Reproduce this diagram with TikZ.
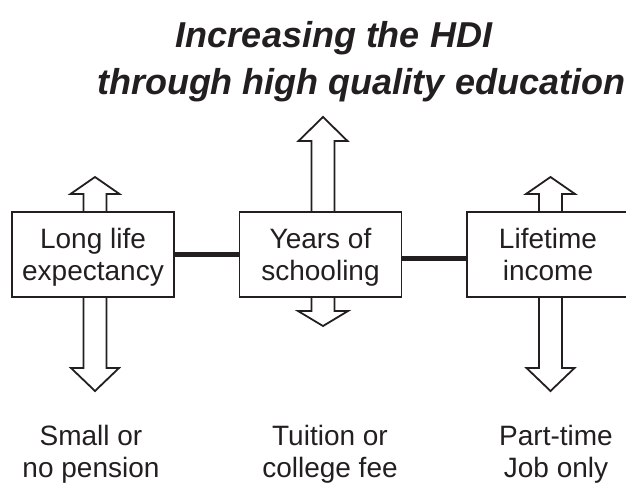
\documentclass[tikz,border=0pt]{standalone}
\usepackage{fontspec}
\setmainfont{Liberation Sans}
\usepackage{tikz}
\definecolor{ink}{RGB}{35,31,32}
\newcommand{\upstrut}{\rule{0pt}{26pt}}
\newcommand{\dnstrut}{\rule[-7pt]{0pt}{7pt}}
\tikzset{
  factor/.style={draw=ink,text=ink,line width=1.8pt,minimum width=162pt,minimum height=85pt,
    align=center,inner sep=0pt,outer sep=0pt,font=\fontsize{28}{32}\selectfont},
  outcome/.style={text=ink,align=center,inner sep=0pt,font=\fontsize{28}{32}\selectfont},
  heading/.style={text=ink,anchor=base,inner sep=0pt,font=\bfseries\itshape\fontsize{36}{40}\selectfont},
  link/.style={draw=ink,line width=4.5pt},
  pics/hollow arrow/.style n args={3}{code={
    \draw[draw=ink,line width=1.8pt,line join=miter]
      (-11.5,0) -- (-11.5,{#1-(#2)}) -- (-#3,{#1-(#2)}) -- (0,#1)
      -- (#3,{#1-(#2)}) -- (11.5,{#1-(#2)}) -- (11.5,0);
  }},
}

\begin{document}
\begin{tikzpicture}[x=1pt,y=-1pt]
\useasboundingbox (0,0) rectangle (626,484);
\clip (0,0) rectangle (626,484);

\node [heading] (t1) at (334,48) {Increasing the HDI};
\node [heading] (t2) at (361,95) {through high quality education};

\node [factor] (b1) at (93,254.5) {\upstrut Long life\\expectancy\dnstrut};
\node [factor] (b2) at (320.5,254.5) {\upstrut Years of\\schooling\dnstrut};
\node [factor] (b3) at (548,254.5) {\upstrut Lifetime\\income\dnstrut};

\draw[link] (b1) -- (b2);
\draw[link] ([yshift=-4pt]b2.east) -- ([yshift=-4pt]b3.west);

% arrows up and down from each box
\pic at ([xshift=2pt]b1.north) {hollow arrow={-35}{-17}{24.5}};
\pic at ([xshift=2pt]b1.south) {hollow arrow={94}{23}{24}};
\pic at ([xshift=2.5pt]b2.north) {hollow arrow={-95}{-24}{24.5}};
\pic at ([xshift=2.5pt]b2.south) {hollow arrow={29}{15}{25}};
\pic at ([xshift=2.5pt]b3.north) {hollow arrow={-35}{-17}{24.5}};
\pic at ([xshift=2.5pt]b3.south) {hollow arrow={94}{23}{24}};

\node [outcome] (o1) at (91,451.5) {\upstrut Small or\\no pension\dnstrut};
\node [outcome] (o2) at (330,451.5) {\upstrut Tuition or\\college fee\dnstrut};
\node [outcome] (o3) at (556,451.5) {\upstrut Part-time\\Job only\dnstrut};

\end{tikzpicture}
\end{document}
